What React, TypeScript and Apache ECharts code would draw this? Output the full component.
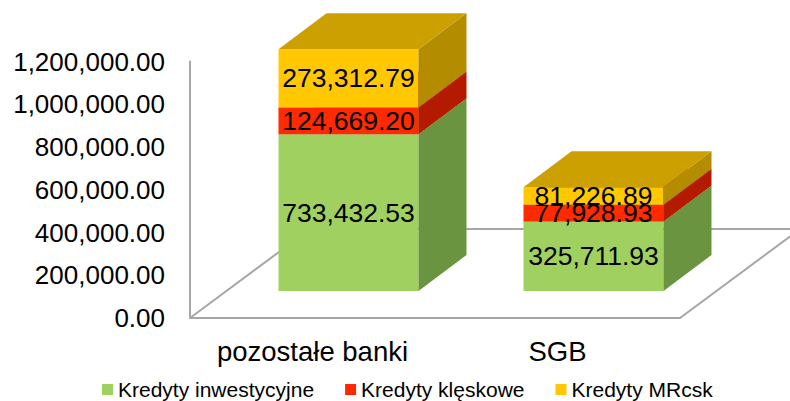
import React, { useEffect, useRef } from "react";
import * as echarts from "echarts";

const categories = ["pozostałe banki", "SGB"];
const seriesNames = ["Kredyty inwestycyjne", "Kredyty klęskowe", "Kredyty MRcsk"];
const inwestycyjne = [733432.53, 325711.93];
const kleskowe = [124669.2, 77928.93];
const mrcsk = [273312.79, 81226.89];
const yTicks = { min: 0, max: 1200000, interval: 200000 };

const FONT = "'Liberation Sans', Arial, sans-serif";
const faceColors = [
  { front: "#A0D160", side: "#6B9440", top: "#86B350" },
  { front: "#FF2A00", side: "#B31A00", top: "#CC2200" },
  { front: "#FFC800", side: "#B38C00", top: "#CCA000" },
];

function fmt(v: number): string {
  const s = v.toFixed(2);
  const [i, d] = s.split(".");
  return i.replace(/\B(?=(\d{3})+(?!\d))/g, ",") + "." + d;
}

export default function App() {
  const ref = useRef<HTMLDivElement>(null);
  useEffect(() => {
    if (!ref.current) return;
    const chart = echarts.init(ref.current, undefined, { renderer: "svg" });
    const layers = [inwestycyjne, kleskowe, mrcsk];
    const bases = layers.map((_, li) =>
      categories.map((_, ci) => {
        let s = 0;
        for (let k = 0; k < li; k++) s += layers[k][ci];
        return s;
      })
    );

    // front-plane -> bar-plane offset, bar geometry
    const OX = 36, OY = -27, DX = 48, DY = -36, BARW = 140;
    const FX = 120, FY = -89;

    const barSeries = layers.map((arr, li) => ({
      type: "custom",
      name: seriesNames[li],
      itemStyle: { color: faceColors[li].front },
      data: arr.map((v, ci) => [ci, v, bases[li][ci]]),
      renderItem: (params: any, api: any) => {
        const ci = api.value(0);
        const v = api.value(1);
        const b = api.value(2);
        const p0 = api.coord([ci, b]);
        const p1 = api.coord([ci, b + v]);
        const cx = p0[0] + OX;
        const yb = p0[1] + OY;
        const yt = p1[1] + OY;
        const xl = cx - BARW / 2;
        const xr = cx + BARW / 2;
        const c = faceColors[li];
        return {
          type: "group",
          children: [
            {
              type: "rect",
              shape: { x: xl, y: yt, width: BARW, height: yb - yt },
              style: { fill: c.front },
            },
            {
              type: "polygon",
              shape: { points: [[xr, yb], [xr + DX, yb + DY], [xr + DX, yt + DY], [xr, yt]] },
              style: { fill: c.side },
            },
            {
              type: "polygon",
              shape: { points: [[xl, yt], [xr, yt], [xr + DX, yt + DY], [xl + DX, yt + DY]] },
              style: { fill: c.top },
            },
            {
              type: "text",
              x: cx,
              y: (yt + yb) / 2,
              style: {
                text: fmt(v),
                fill: "#000",
                fontSize: 26.5,
                fontFamily: FONT,
                align: "center",
                verticalAlign: "middle",
              },
            },
          ],
        };
      },
    }));

    const floorSeries = {
      type: "custom",
      name: "floor",
      silent: true,
      data: [[0, 0]],
      renderItem: (params: any, api: any) => {
        const band = api.size([1, 0])[0];
        const a = api.coord([0, 0]);
        const b = api.coord([categories.length - 1, 0]);
        const left = a[0] - band / 2;
        const right = b[0] + band / 2;
        const y0 = a[1];
        const st = { stroke: "#A6A6A6", lineWidth: 2, fill: "none" };
        return {
          type: "group",
          children: [
            { type: "line", shape: { x1: left, y1: y0, x2: left + FX, y2: y0 + FY }, style: st },
            { type: "line", shape: { x1: left + FX, y1: y0 + FY, x2: right + FX, y2: y0 + FY }, style: st },
            { type: "line", shape: { x1: right, y1: y0, x2: right + FX, y2: y0 + FY }, style: st },
          ],
        };
      },
    };

    chart.setOption({
      animation: false,
      grid: { left: 190, right: 110, top: 61.5, bottom: 83 },
      legend: {
        data: seriesNames,
        left: 97,
        top: 374,
        icon: "rect",
        itemWidth: 11,
        itemHeight: 11,
        itemGap: 31,
        textStyle: { fontSize: 21, fontFamily: FONT, color: "#000" },
      },
      xAxis: {
        type: "category",
        data: categories,
        axisLine: { show: true, lineStyle: { color: "#A6A6A6", width: 2 } },
        axisTick: { show: false },
        axisLabel: { interval: 0, fontSize: 27.5, fontFamily: FONT, color: "#000", margin: 19 },
      },
      yAxis: {
        type: "value",
        min: yTicks.min,
        max: yTicks.max,
        interval: yTicks.interval,
        axisLine: { show: true, lineStyle: { color: "#A6A6A6", width: 2 } },
        axisTick: { show: false },
        splitLine: { show: false },
        axisLabel: {
          fontSize: 26,
          fontFamily: FONT,
          color: "#000",
          margin: 25,
          formatter: (v: number) => fmt(v),
        },
      },
      series: [floorSeries, ...barSeries],
    });
    return () => chart.dispose();
  }, []);
  return (
    <div
      ref={ref}
      style={{ position: "absolute", left: 0, top: 0, width: 790, height: 401, background: "#fff" }}
    />
  );
}
